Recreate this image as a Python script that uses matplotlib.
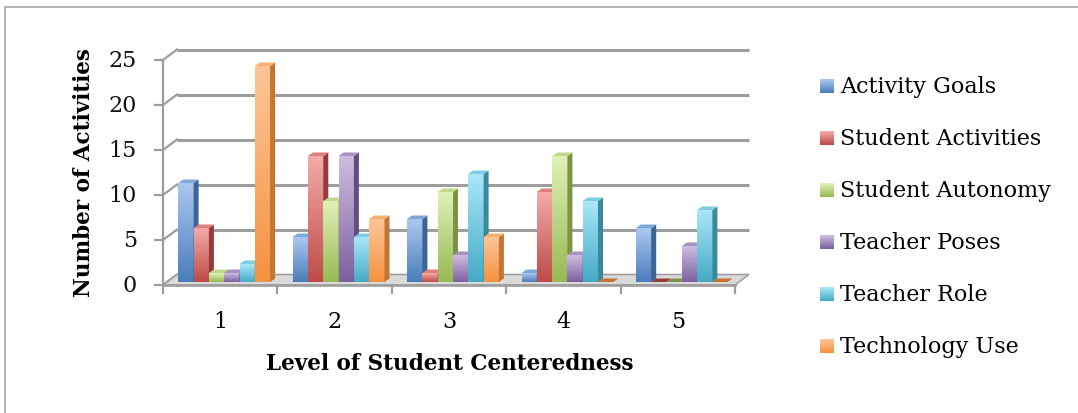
import numpy as np
import matplotlib.pyplot as plt
from matplotlib.patches import Polygon, Rectangle
from matplotlib.colors import to_rgb

levels = ['1', '2', '3', '4', '5']
series = ['Activity Goals', 'Student Activities', 'Student Autonomy',
          'Teacher Poses', 'Teacher Role', 'Technology Use']
activity_goals = [11, 5, 7, 1, 6]
student_activities = [6, 14, 1, 10, 0]
student_autonomy = [1, 9, 10, 14, 0]
teacher_poses = [1, 14, 3, 3, 4]
teacher_role = [2, 5, 12, 9, 8]
technology_use = [24, 7, 5, 0, 0]
values = [activity_goals, student_activities, student_autonomy,
          teacher_poses, teacher_role, technology_use]

# (light top, dark bottom, side) for each series
shades = [('#abc7f0', '#4a7ebb', '#3c6596'),
          ('#f4aaa8', '#be4b48', '#973b39'),
          ('#e0f1b6', '#98b954', '#7a9444'),
          ('#cdbde0', '#7d60a0', '#634c80'),
          ('#a8e7f9', '#46aac5', '#38889e'),
          ('#fec597', '#f69240', '#c47433')]

W, H, DPI = 1078, 414, 100
fig = plt.figure(figsize=(W / DPI, H / DPI), dpi=DPI)
font = 'DejaVu Serif'
plt.rcParams['font.family'] = font

# front plane of the plot area in pixels
x0px, x1px, y0px, y1px = 163, 735, 286, 61
ax = fig.add_axes([x0px / W, (H - y0px) / H, (x1px - x0px) / W, (y0px - y1px) / H])
ax.set_xlim(0.5, 5.5)
ax.set_ylim(0, 25)
ax.axis('off')

px_x = (x1px - x0px) / 5
px_y = (y0px - y1px) / 25
wall_dx, wall_dy = 14 / px_x, 10.5 / px_y      # back wall offset
bar_dx, bar_dy = 5 / px_x, 3.5 / px_y          # bar depth
base = 3 / px_y
bw = 15.3 / px_x
shift = 4 / px_x
grid_c = '#9d9d9d'

# chart frame
fig.add_artist(Rectangle((5 / W, -0.1), 1.2, 1 - 8 / H + 0.1, transform=fig.transFigure,
                         fill=False, ec='#a6a6a6', lw=1.2))

# floor
floor = Polygon([(0.5, 0), (5.5, 0), (5.5 + wall_dx, wall_dy), (0.5 + wall_dx, wall_dy)],
                closed=True, fc='#dadada', ec='#a0a0a0', lw=1.2, zorder=1, clip_on=False)
ax.add_patch(floor)

# back wall gridlines and left-side connectors
for v in range(0, 26, 5):
    if v > 0:
        ax.plot([0.5 + wall_dx, 5.5 + wall_dx], [v + wall_dy, v + wall_dy],
                color=grid_c, lw=2.2, zorder=0.5, clip_on=False, solid_capstyle='butt')
    ax.plot([0.5, 0.5 + wall_dx], [v, v + wall_dy], color=grid_c, lw=1.6,
            zorder=0.6, clip_on=False)
    ax.plot([0.5 - 8 / px_x, 0.5], [v, v], color=grid_c, lw=1.6, clip_on=False, zorder=2)
    ax.text(0.5 - 26 / px_x, v, str(v), ha='right', va='center', fontsize=16,
            family=font, color='#111111')

# front axis and floor edge
ax.plot([0.5, 0.5], [0, 25], color=grid_c, lw=1.6, clip_on=False, zorder=2)
ax.plot([0.5, 5.5], [0, 0], color='#a0a0a0', lw=2.0, clip_on=False, zorder=2)
for k in range(6):
    ax.plot([0.5 + k, 0.5 + k], [0, -8 / px_y], color=grid_c, lw=1.6, clip_on=False)

x = np.arange(1, 6)
for i, (name, vals, (light, dark, side)) in enumerate(zip(series, values, shades)):
    left = x + shift - 3 * bw + i * bw
    z = 3 + i * 0.1
    bars = ax.bar(left, vals, width=bw, bottom=base, align='edge', color=dark,
                  lw=0, zorder=z, label=name)
    grad = np.linspace(np.array(to_rgb(dark)), np.array(to_rgb(light)), 64)[:, None, :]
    for b, lx, v in zip(bars, left, vals):
        top = base + v
        if v > 0:
            im = ax.imshow(grad, extent=[lx, lx + bw, base, top], origin='lower',
                           aspect='auto', zorder=z, interpolation='bilinear')
            im.set_clip_path(b)
            ax.add_patch(Polygon([(lx + bw, base), (lx + bw + bar_dx, base + bar_dy),
                                  (lx + bw + bar_dx, top + bar_dy), (lx + bw, top)],
                                 closed=True, fc=side, lw=0, zorder=z + 0.01))
        tc = np.array(to_rgb(light)) * 0.55 + np.array(to_rgb(dark)) * 0.45
        ax.add_patch(Polygon([(lx, top), (lx + bw, top), (lx + bw + bar_dx, top + bar_dy),
                              (lx + bar_dx, top + bar_dy)],
                             closed=True, fc=tc if v > 0 else side, lw=0, zorder=z + 0.02))

ax.set_xlim(0.5, 5.5)
ax.set_ylim(0, 25)

for k, lab in zip(x, levels):
    ax.text(k, -36 / px_y, lab, ha='center', va='center', fontsize=16, family=font)

fig.text((x0px + x1px) / 2 / W + 0.5 / W, 1 - 364 / H, 'Level of Student Centeredness',
         ha='center', va='center', fontsize=15.5, fontweight='bold', family=font)
fig.text(84 / W, 1 - 173 / H, 'Number of Activities', ha='center', va='center',
         rotation=90, fontsize=15.5, fontweight='bold', family=font)

# legend entries
for i, (name, (light, dark, side)) in enumerate(zip(series, shades)):
    yc = 1 - (87 + 52 * i) / H
    sq = fig.add_axes([820 / W, yc - 7 / H, 14 / W, 14 / H])
    sq.imshow(np.linspace(np.array(to_rgb(dark)), np.array(to_rgb(light)), 16)[:, None, :],
              origin='lower', aspect='auto', extent=[0, 1, 0, 1])
    sq.axis('off')
    fig.text(840 / W, yc, name, ha='left', va='center', fontsize=16, family=font)

fig.savefig('out.png', dpi=DPI)
